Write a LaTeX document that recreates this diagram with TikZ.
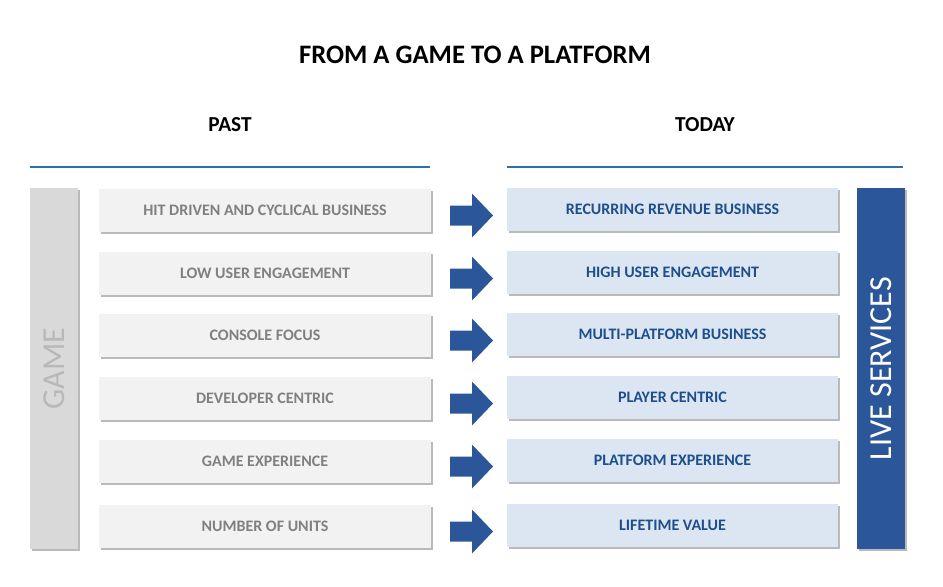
\documentclass[tikz,border=0pt]{standalone}
\usepackage{fontspec}
\setmainfont{Carlito}
\usetikzlibrary{shadows}
\definecolor{lblue}{RGB}{46,110,170}
\definecolor{dblue}{RGB}{43,87,154}
\definecolor{tblue}{RGB}{31,78,140}
\definecolor{lfill}{RGB}{242,242,242}
\definecolor{rfill}{RGB}{220,230,242}
\definecolor{ltext}{RGB}{128,128,128}
\begin{document}
\begin{tikzpicture}[x=0.75pt,y=-0.75pt,
  sh/.style={drop shadow={shadow xshift=1.5pt,shadow yshift=-1.5pt,fill=black!45,opacity=0.6}},
  lbox/.style={sh,fill=lfill,draw=none,minimum width=249pt,minimum height=32pt,inner sep=0pt,font=\bfseries\fontsize{12}{14}\selectfont,text=ltext},
  rbox/.style={sh,fill=rfill,draw=none,minimum width=248pt,minimum height=32pt,inner sep=0pt,font=\bfseries\fontsize{12}{14}\selectfont,text=tblue},
  arr/.style={fill=dblue,draw=none},
  hdr/.style={font=\bfseries\fontsize{16}{18}\selectfont}]
\useasboundingbox (0,0) rectangle (943,586);
\node[font=\bfseries\fontsize{20}{24}\selectfont] (title) at (475,55) {FROM A GAME TO A PLATFORM};
\node[hdr] (past) at (230,125) {PAST};
\node[hdr] (today) at (705,125) {TODAY};
\draw[lblue,line width=1.5pt] (30,167) -- (430,167);
\draw[lblue,line width=1.5pt] (507,167) -- (903,167);
\node[sh,fill=black!15,minimum width=36pt,minimum height=271pt,inner sep=0pt] (game) at (54,368.5) {};
\node[rotate=90,text=black!28,font=\fontsize{24}{28}\selectfont] at (game) {GAME};
\node[sh,fill=dblue,minimum width=36pt,minimum height=271pt,inner sep=0pt] (live) at (881,368.5) {};
\node[rotate=90,text=white,font=\fontsize{24}{28}\selectfont] at (live) {LIVE SERVICES};
\foreach \y/\a/\b [count=\i] in {210.5/HIT DRIVEN AND CYCLICAL BUSINESS/RECURRING REVENUE BUSINESS,
  273.5/LOW USER ENGAGEMENT/HIGH USER ENGAGEMENT,
  335.5/CONSOLE FOCUS/MULTI-PLATFORM BUSINESS,
  398.5/DEVELOPER CENTRIC/PLAYER CENTRIC,
  461.5/GAME EXPERIENCE/PLATFORM EXPERIENCE,
  526.5/NUMBER OF UNITS/LIFETIME VALUE}{
  \node[lbox] (l\i) at (265,\y) {\a};
  \node[rbox] (r\i) at (672.5,\y-1) {\b};
  \fill[arr] (450,\y-5) -- (472,\y-5) -- (472,\y-17) -- (493,\y+5) -- (472,\y+27) -- (472,\y+15) -- (450,\y+15) -- cycle;
}
\end{tikzpicture}
\end{document}
